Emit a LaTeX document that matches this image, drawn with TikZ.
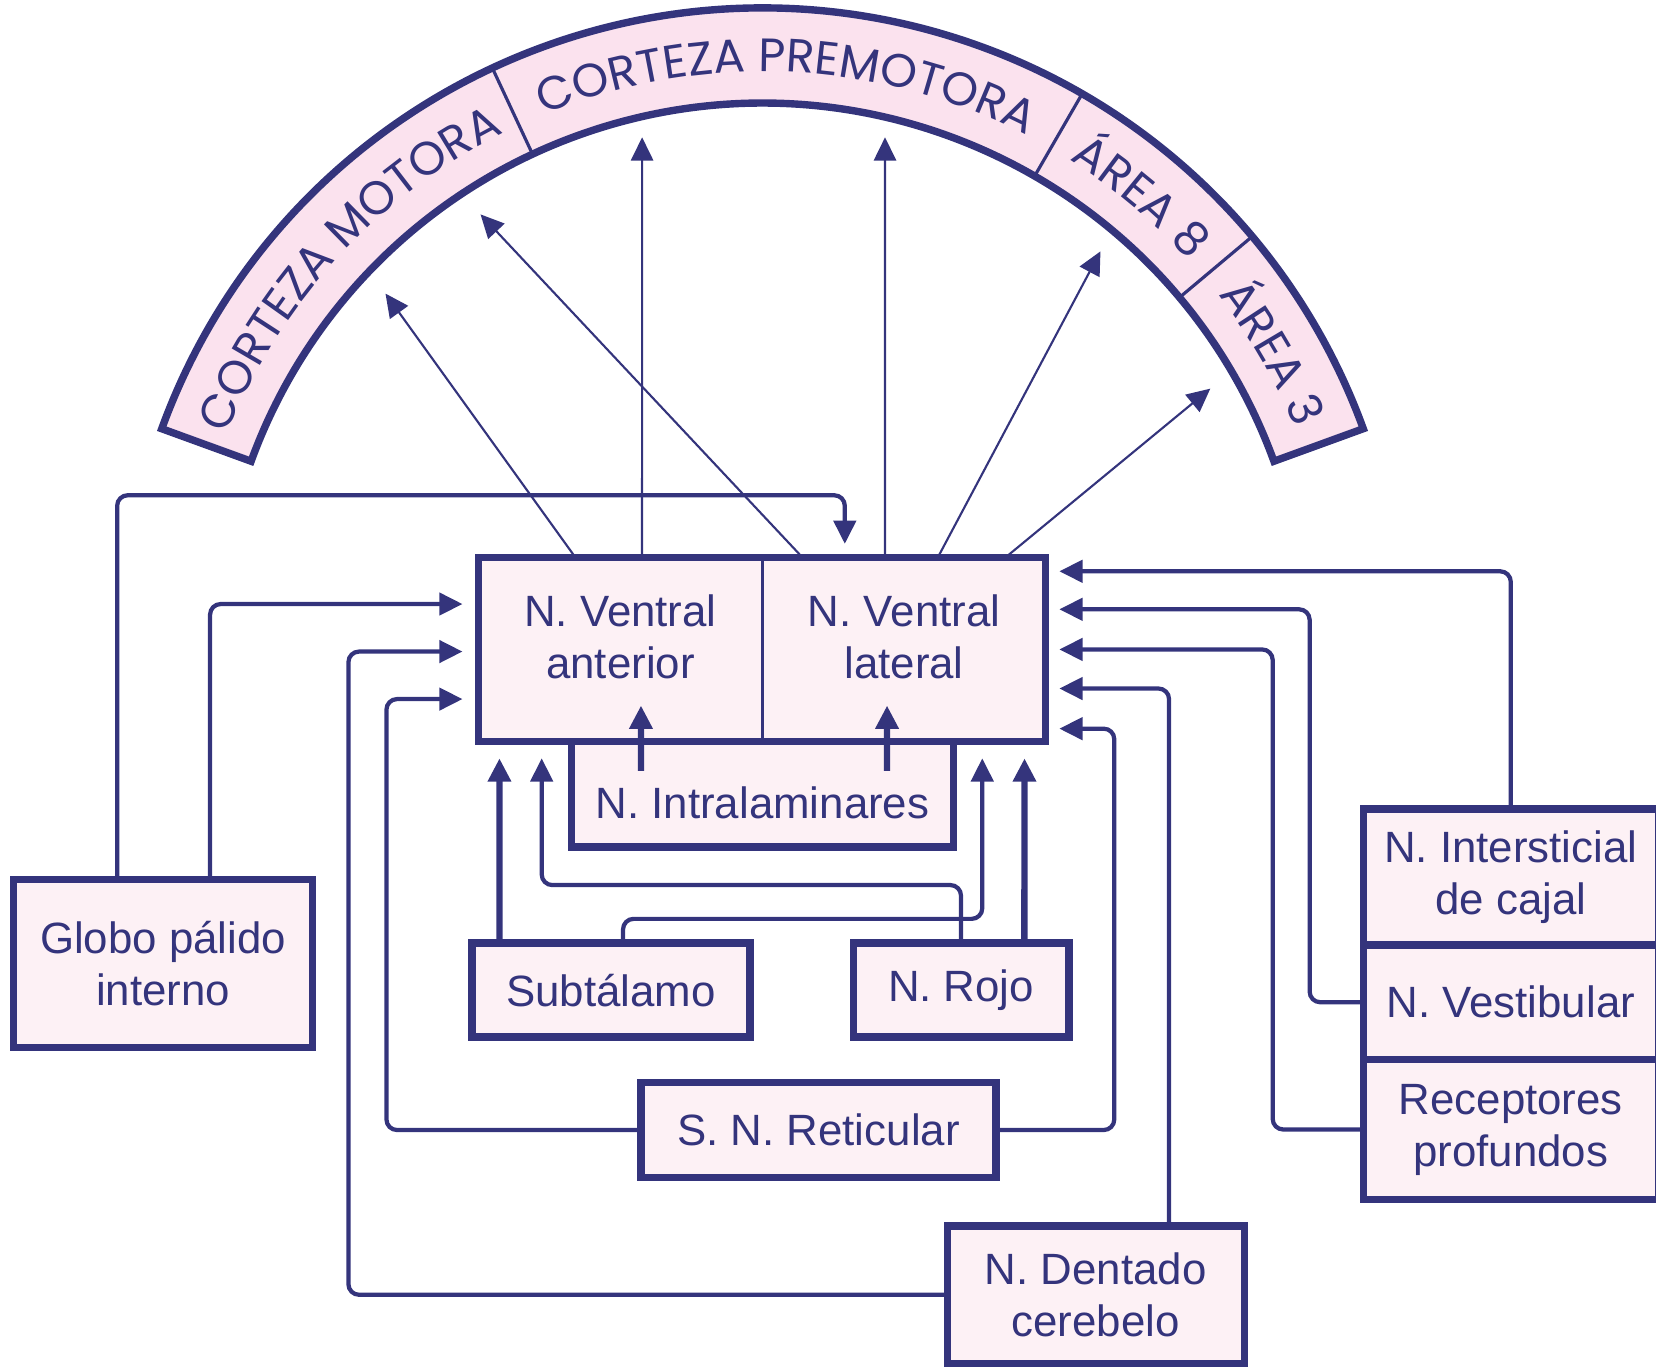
\documentclass[tikz,border=0pt]{standalone}
\usepackage{fontspec}
\setmainfont{Liberation Sans}
\newfontfamily\arcfont{Poppins}
\usepackage{tikz}
\usetikzlibrary{calc,arrows.meta,decorations.text}
\definecolor{navy}{HTML}{34347C}
\definecolor{cortexpink}{HTML}{FBE2EE}
\definecolor{boxpink}{HTML}{FDF1F5}
\newcommand{\thickness}{0.4mm}
\newcommand{\border}{0.7mm}
\newcommand{\rin}{5.15}
\newcommand{\rout}{6.05}
\newcommand{\rtext}{5.45}

\begin{document}
\begin{tikzpicture}[x=0.01cm, y=-0.01cm, >={Triangle[length=2.2mm,width=2.1mm]},
  box/.style={draw=navy, fill=boxpink, line width=\border, inner sep=0pt, outer sep=0pt, align=center, text=navy, font=\fontsize{11.8}{14}\selectfont},
  link/.style={draw=navy, line width=\thickness, rounded corners=1mm, ->},
  ray/.style={draw=navy, line width=0.2mm, ->},
  push/.style={draw=navy, line width=0.6mm, ->},
  arclabel/.style={decorate, decoration={text along path, text align=center, text color=navy, text={|\arcfont\fontsize{12.6}{14}\selectfont|#1}}}]
\useasboundingbox (0,0) rectangle (1568,1295);
%cortex
\coordinate (ctr) at (722,613);
\begin{scope}[shift={(ctr)}, x=1cm, y=1cm]
\filldraw[fill=cortexpink, draw=navy, line width=\border] (160:\rout) arc[start angle=160, end angle=20, radius=\rout] -- (20:\rin) arc[start angle=20, end angle=160, radius=\rin] -- cycle;
\draw[navy, line width=0.3mm] (115:\rin) -- (115:\rout);
\draw[navy, line width=0.3mm] (60:\rin) -- (60:\rout);
\draw[navy, line width=0.3mm] (40:\rin) -- (40:\rout);
\path[arclabel={CORTEZA MOTORA}] (160:\rtext) arc[start angle=160, end angle=115, radius=\rtext];
\path[arclabel={CORTEZA PREMOTORA}] (115:\rtext) arc[start angle=115, end angle=60, radius=\rtext];
\path[arclabel={ÁREA 8}] (60:\rtext) arc[start angle=60, end angle=40, radius=\rtext];
\path[arclabel={ÁREA 3}] (40:\rtext) arc[start angle=40, end angle=20, radius=\rtext];
\end{scope}
\coordinate (c1) at (365,278);
\coordinate (c2) at (608,130);
\coordinate (c3) at (455,203);
\coordinate (c4) at (838,130);
\coordinate (c5) at (1042,238);
\coordinate (c6) at (1146,368);
%nuclei
\node[box, minimum width=3.62cm, minimum height=1.00cm, text height=0.46cm] (intr) at (722,752) {N. Intralaminares};
\node[box, draw=none, minimum width=2.69cm, minimum height=1.74cm, text depth=0.24cm] (va) at (587.5,615) {N. Ventral\\anterior};
\node[box, draw=none, minimum width=2.68cm, minimum height=1.74cm, text depth=0.24cm] (vl) at (856,615) {N. Ventral\\lateral};
\node[box, minimum width=2.83cm, minimum height=1.59cm] (glob) at (154.5,912.5) {Globo pálido\\interno};
\node[box, minimum width=2.63cm, minimum height=0.89cm] (sub) at (578.5,937.5) {Subtálamo};
\node[box, minimum width=2.04cm, minimum height=0.89cm] (rojo) at (910,937.5) {N. Rojo};
\node[box, minimum width=3.36cm, minimum height=0.90cm] (ret) at (775,1070) {S. N. Reticular};
\node[box, minimum width=2.81cm, minimum height=1.30cm] (dent) at (1037.5,1226) {N. Dentado\\cerebelo};
\node[box, minimum width=2.79cm, minimum height=1.29cm] (inter) at (1430.5,830.5) {N. Intersticial\\de cajal};
\node[box, minimum width=2.79cm, minimum height=1.08cm] (vest) at (1430.5,949) {N. Vestibular};
\node[box, minimum width=2.79cm, minimum height=1.33cm] (rec) at (1430.5,1069.5) {Receptores\\profundos};
%to cortex
\draw[ray] ($(va.north west)+(92,0)$) -- (c1);
\draw[ray] ($(va.north west)+(155,0)$) -- (c2);
\draw[ray] ($(vl.north west)+(38,0)$) -- (c3);
\draw[ray] ($(vl.north west)+(116,0)$) -- (c4);
\draw[ray] ($(vl.north west)+(166,0)$) -- (c5);
\draw[ray] ($(vl.north west)+(230,0)$) -- (c6);
\draw[navy, line width=\border] (va.north west) rectangle (vl.south east);
\draw[navy, line width=0.3mm] (va.north east) -- (va.south east);
%left side
\draw[link] ($(glob.north west)+(98,0)$) |- ($(vl.north west)+(78,-59)$) -- ($(vl.north west)+(78,-13)$);
\draw[link] ($(glob.north west)+(186,0)$) |- ($(va.north west)+(-15,44)$);
\draw[link] (dent.west) -| ($(va.north west)+(-123,89)$) -- ($(va.north west)+(-15,89)$);
\draw[link] (ret.west) -| ($(va.north west)+(-87,134)$) -- ($(va.north west)+(-15,134)$);
%right side
\draw[link] (inter.north) |- ($(vl.north east)+(13,13)$);
\draw[link] (vest.west) -| ($(vl.north east)+(250,49)$) -- ($(vl.north east)+(13,49)$);
\draw[link] (rec.west) -| ($(vl.north east)+(215,87)$) -- ($(vl.north east)+(13,87)$);
\draw[link] ($(dent.north west)+(210,0)$) |- ($(vl.north east)+(13,124)$);
\draw[link] (ret.east) -| ($(vl.north east)+(65,162)$) -- ($(vl.north east)+(13,162)$);
%below
\draw[push] ($(sub.north west)+(26,0)$) -- ($(va.south west)+(20,16)$);
\draw[link] ($(rojo.north west)+(102,0)$) |- ($(va.south west)+(60,136)$) -- ($(va.south west)+(60,16)$);
\draw[link] ($(sub.north west)+(143,0)$) |- ($(vl.south east)+(-60,168)$) -- ($(vl.south east)+(-60,16)$);
\draw[push] ($(rojo.north west)+(162,0)$) -- ($(vl.south east)+(-20,16)$);
%intralaminares
\draw[push] ($(intr.north west)+(66,28)$) -- ($(va.south west)+(154,-34)$);
\draw[push] ($(intr.north west)+(299,28)$) -- ($(vl.south west)+(118,-34)$);
\end{tikzpicture}
\end{document}
